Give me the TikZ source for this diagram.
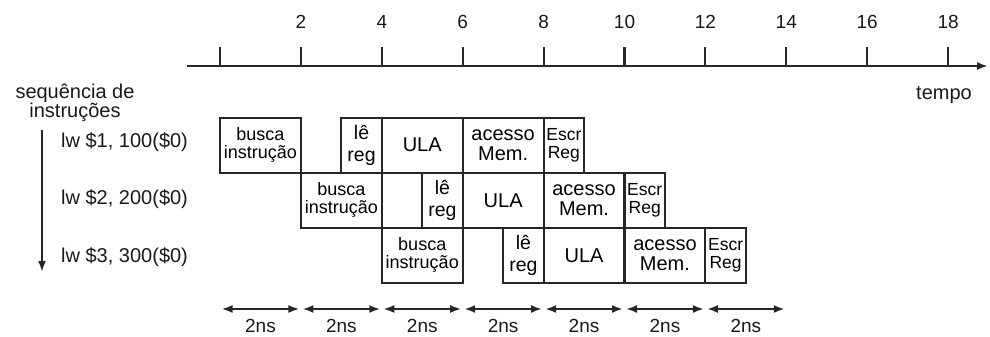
\documentclass[tikz,border=0pt]{standalone}
\usepackage{fontspec}
\setmainfont{Liberation Sans}
\usetikzlibrary{arrows.meta}
\newcommand\fsz[1]{\fontsize{#1}{#1}\selectfont}
\begin{document}
\begin{tikzpicture}[x=1pt,y=-1pt,
  ln/.style={line width=2.1pt, draw=black!85},
  stage/.style={ln, rectangle, inner sep=0pt, minimum height=55pt, align=center, font=\fsz{19}},
  lbl/.style={inner sep=0pt, font=\fsz{19}, text=black!90},
  tip/.style={-{Latex[length=11pt,width=8pt]}},
  dtip/.style={{Latex[length=11pt,width=8pt]}-{Latex[length=11pt,width=8pt]}, shorten <=1.5pt, shorten >=1.5pt}
]
\useasboundingbox (0,0) rectangle (990,337);
% time axis
\coordinate (axs) at (187,66);
\coordinate (axe) at (988,66);
\draw[ln,tip] (axs) -- (axe);
\foreach \t in {0,2,...,18} {
  \coordinate (tk\t) at ({220+40.45*\t},66);
  \draw[ln] (tk\t) -- ++(0,-19);
}
\foreach \t in {2,4,...,18} {
  \node[lbl] (n\t) at ({220+40.45*\t},22) {\t};
}
\node[lbl, font=\fsz{20}] (tempo) at (944,95) {tempo};
% left labels
\node[lbl, align=center, font=\fontsize{20}{18}\selectfont] (seq) at (75,103) {sequência de\\instruções};
\coordinate (vs) at (42,130);
\coordinate (ve) at (42,272);
\draw[ln,tip] (vs) -- (ve);
\node[lbl, anchor=west, font=\fsz{20}] (lw1) at (61,142) {lw \$1, 100(\$0)};
\node[lbl, anchor=west, font=\fsz{20}] (lw2) at (61,199) {lw \$2, 200(\$0)};
\node[lbl, anchor=west, font=\fsz{20}] (lw3) at (61,257) {lw \$3, 300(\$0)};
% pipeline stages
\foreach \r/\y in {1/145.2,2/200.3,3/255.3} {
  \pgfmathsetmacro\o{2*(\r-1)}
  \node[stage, minimum width=80.9pt, font=\fsz{18}] (busca\r) at ({220+40.45*(\o+1)},\y) {busca\\instrução};
  \node[stage, minimum width=40.45pt, font=\fsz{19.5}] (le\r) at ({220+40.45*(\o+3.5)},\y) {lê\\[2pt]reg};
  \node[stage, minimum width=80.9pt, font=\fsz{20}] (ula\r) at ({220+40.45*(\o+5)},\y) {ULA};
  \node[stage, minimum width=80.9pt, font=\fsz{20}] (mem\r) at ({220+40.45*(\o+7)},\y) {acesso\\Mem.};
  \node[stage, minimum width=40.45pt, font=\fsz{17.5}] (esc\r) at ({220+40.45*(\o+8.5)},\y) {Escr\\Reg};
}
% 2ns arrows
\foreach \i in {0,...,7} {
  \coordinate (d\i) at ({220+40.45*2*\i},309);
}
\foreach \i [evaluate=\i as \j using int(\i+1)] in {0,...,6} {
  \draw[ln,dtip] (d\i) -- (d\j);
  \node[lbl] (ns\i) at ({220+40.45*(2*\i+1)},326) {2ns};
}
\end{tikzpicture}
\end{document}
